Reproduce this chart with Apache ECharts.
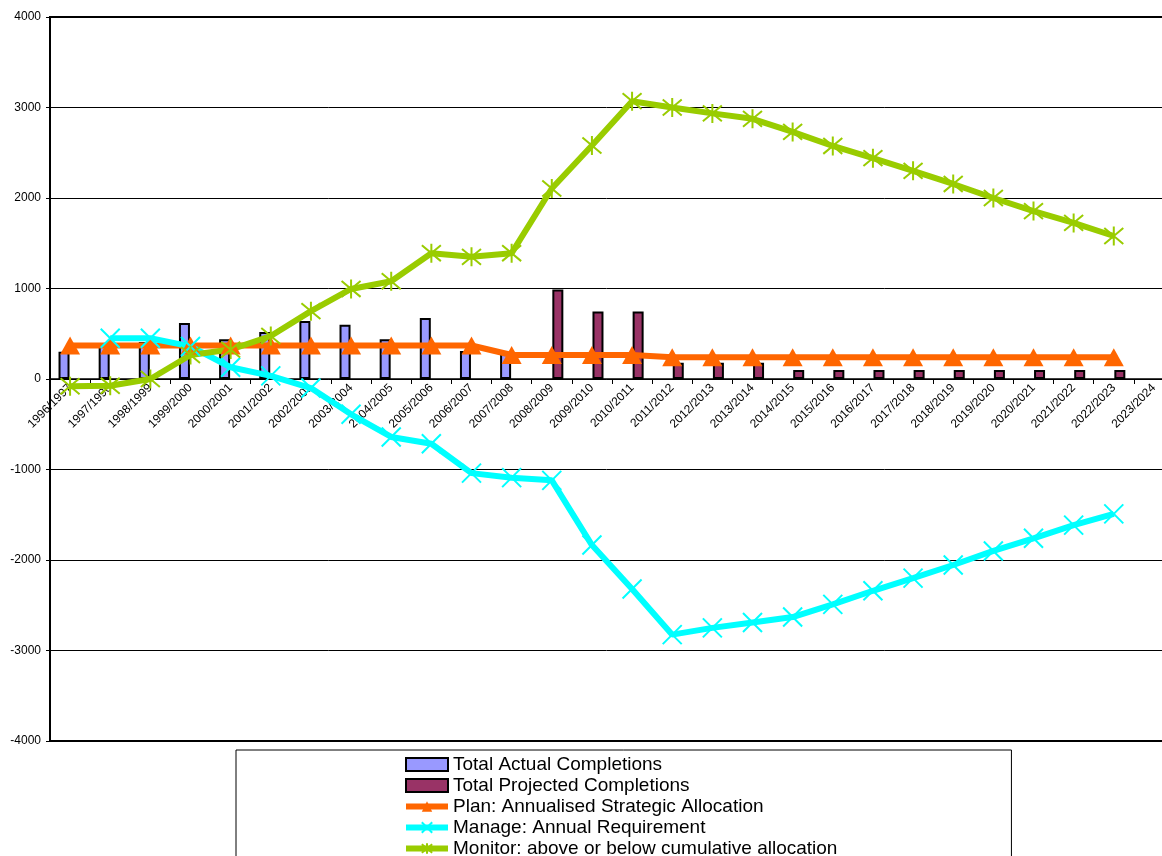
<!DOCTYPE html>
<html>
<head>
<meta charset="utf-8">
<script src="https://cdn.jsdelivr.net/npm/echarts@6/dist/echarts.min.js"></script>
<style>
  html, body { margin: 0; padding: 0; background: #fff; }
  #chart { width: 1162px; height: 856px; }
</style>
</head>
<body>
<div id="chart"></div>
<script>
const years = [
  '1996/1997', '1997/1998', '1998/1999', '1999/2000', '2000/2001', '2001/2002', '2002/2003',
  '2003/2004', '2004/2005', '2005/2006', '2006/2007', '2007/2008', '2008/2009', '2009/2010',
  '2010/2011', '2011/2012', '2012/2013', '2013/2014', '2014/2015', '2015/2016', '2016/2017',
  '2017/2018', '2018/2019', '2019/2020', '2020/2021', '2021/2022', '2022/2023', '2023/2024'
];

// completions
const actual = [300, 380, 410, 620, 440, 520, 640, 600, 440, 675, 310, 300,
  null, null, null, null, null, null, null, null, null, null, null, null, null, null, null, null];
const projected = [null, null, null, null, null, null, null, null, null, null, null, null,
  990, 745, 745, 180, 180, 180, 100, 100, 100, 100, 100, 100, 100, 100, 100, null];

const plan = [370, 370, 370, 370, 370, 370, 370, 370, 370, 370, 370, 265,
  265, 265, 265, 240, 240, 240, 240, 240, 240, 240, 240, 240, 240, 240, 240, null];
const manage = [null, 450, 450, 360, 130, 35, -100, -390, -640, -715, -1040, -1090,
  -1120, -1835, -2320, -2825, -2750, -2690, -2630, -2490, -2340, -2200, -2055, -1900, -1760, -1615, -1490, null];
const monitor = [-80, -75, 0, 265, 325, 475, 750, 995, 1080, 1390, 1350, 1390,
  2105, 2580, 3070, 3000, 2935, 2875, 2730, 2575, 2440, 2300, 2155, 2000, 1855, 1725, 1580, null];

const FONT = '"Liberation Sans", Arial, sans-serif';
const crossPath = 'path://M0,0 L10,10 M10,0 L0,10';
const starPath = 'path://M0,0 L10,10 M10,0 L0,10 M5,-1 L5,11';

const chart = echarts.init(document.getElementById('chart'), null, { renderer: 'canvas' });

chart.setOption({
  backgroundColor: '#ffffff',
  animation: false,
  textStyle: { fontFamily: FONT },
  grid: {
    left: 50,
    top: 17,
    width: 1124,
    height: 724,
    outerBoundsMode: 'none',
    containLabel: false,
    show: true,
    borderColor: '#000',
    borderWidth: 2,
    backgroundColor: 'transparent'
  },
  legend: {
    orient: 'vertical',
    left: 236,
    top: 750,
    height: 130,
    padding: [4, 174, 12, 167],
    borderColor: '#000',
    borderWidth: 1,
    itemWidth: 42,
    itemHeight: 13,
    itemGap: 0,
    lineStyle: { width: 6 },
    textStyle: { fontSize: 19, color: '#000', lineHeight: 21, fontFamily: FONT },
    data: [
      { name: 'Total Actual Completions', icon: 'rect' },
      { name: 'Total Projected Completions', icon: 'rect' },
      'Plan: Annualised Strategic Allocation',
      'Manage: Annual Requirement',
      'Monitor: above or below cumulative allocation'
    ]
  },
  xAxis: {
    type: 'category',
    data: years,
    position: 'bottom',
    offset: -362,
    axisLine: { onZero: false, lineStyle: { color: '#000', width: 1.5 } },
    axisTick: { show: true, length: 5, lineStyle: { color: '#000' } },
    axisLabel: { rotate: 45, interval: 0, fontSize: 12, color: '#000', margin: 7, fontFamily: FONT },
    splitLine: { show: false }
  },
  yAxis: {
    type: 'value',
    min: -4000,
    max: 4000,
    interval: 1000,
    axisLine: { show: true, lineStyle: { color: '#000', width: 2 } },
    axisTick: { show: true, length: 4, lineStyle: { color: '#000' } },
    axisLabel: { fontSize: 12, color: '#000', margin: 9, fontFamily: FONT, formatter: v => String(v) },
    splitLine: { show: true, lineStyle: { color: '#000', width: 1 } }
  },
  series: [
    {
      name: 'Total Actual Completions',
      type: 'bar',
      data: actual,
      barWidth: 11,
      barGap: '10%',
      itemStyle: { color: '#9999FF', borderColor: '#000', borderWidth: 2 }
    },
    {
      name: 'Total Projected Completions',
      type: 'bar',
      data: projected,
      barWidth: 11,
      itemStyle: { color: '#993366', borderColor: '#000', borderWidth: 2 }
    },
    {
      name: 'Plan: Annualised Strategic Allocation',
      type: 'line',
      data: plan,
      symbol: 'triangle',
      symbolSize: [20, 18],
      showAllSymbol: true,
      lineStyle: { color: '#FF6600', width: 6 },
      itemStyle: { color: '#FF6600' }
    },
    {
      name: 'Manage: Annual Requirement',
      type: 'line',
      data: manage,
      symbol: crossPath,
      symbolSize: 19,
      showAllSymbol: true,
      lineStyle: { color: '#00FFFF', width: 6 },
      itemStyle: { color: '#00FFFF', borderColor: '#00FFFF', borderWidth: 2 }
    },
    {
      name: 'Monitor: above or below cumulative allocation',
      type: 'line',
      data: monitor,
      symbol: starPath,
      symbolSize: 19,
      showAllSymbol: true,
      lineStyle: { color: '#99CC00', width: 6 },
      itemStyle: { color: '#99CC00', borderColor: '#99CC00', borderWidth: 2 }
    }
  ]
});
</script>
</body>
</html>
